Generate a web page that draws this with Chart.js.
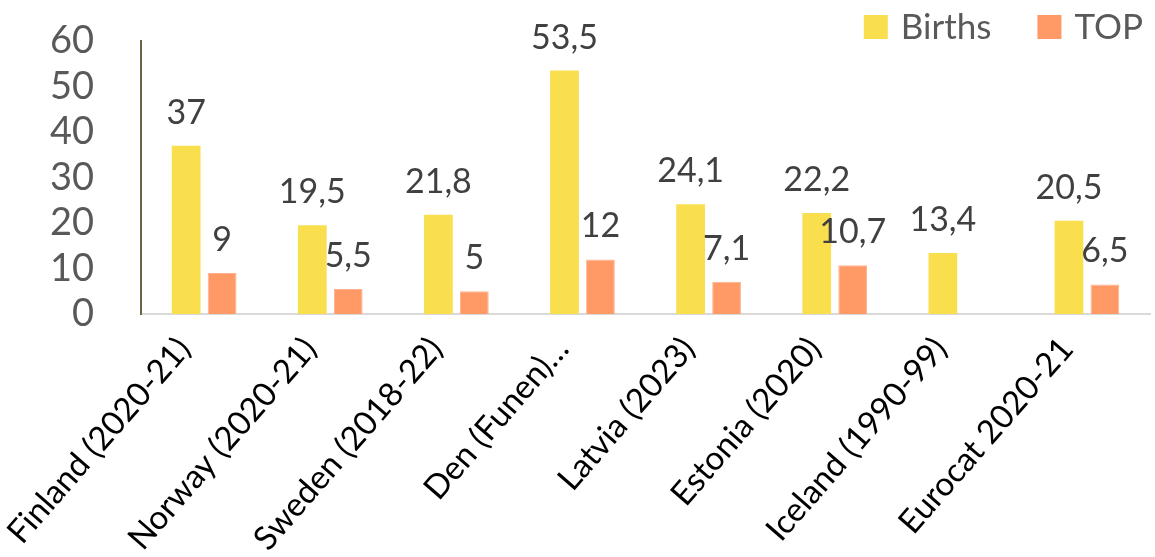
<!DOCTYPE html>
<html>
<head>
<meta charset="utf-8">
<script src="https://cdn.jsdelivr.net/npm/chart.js@4"></script>
<style>
  html, body { margin: 0; padding: 0; background: #fff; }
  #wrap { width: 1155px; height: 557px; position: relative; }
</style>
</head>
<body>
<div id="wrap"><canvas id="myChart"></canvas></div>
<script>
const categories = ['Finland (2020-21)', 'Norway (2020-21)', 'Sweden (2018-22)', 'Den (Funen)…',
  'Latvia (2023)', 'Estonia (2020)', 'Iceland (1990-99)', 'Eurocat 2020-21']
const births = [37, 19.5, 21.8, 53.5, 24.1, 22.2, 13.4, 20.5]
const top_ = [9, 5.5, 5, 12, 7.1, 10.7, null, 6.5]
const yTicks = [0, 10, 20, 30, 40, 50, 60]

const FONT = 'Lato, "Open Sans", sans-serif'

// value labels above each bar, decimal comma
const valueLabels = {
  id: 'valueLabels',
  afterDatasetsDraw(chart) {
    const c = chart.ctx
    c.save()
    c.font = '34px ' + FONT
    c.fillStyle = '#404040'
    c.textAlign = 'center'
    c.textBaseline = 'alphabetic'
    chart.data.datasets.forEach((ds, i) => {
      chart.getDatasetMeta(i).data.forEach((bar, j) => {
        const v = ds.data[j]
        if (v == null) return
        c.fillText(String(v).replace('.', ','), bar.x, bar.y - 22)
      })
    })
    c.restore()
  }
}

// compact legend in the top right corner, overlapping the plot's top margin
const cornerLegend = {
  id: 'cornerLegend',
  afterDraw(chart) {
    const c = chart.ctx
    const box = 24, gapText = 13, gapItem = 46, cy = 27
    c.save()
    c.font = '35px ' + FONT
    c.textBaseline = 'middle'
    c.textAlign = 'left'
    const items = chart.data.datasets.map(ds => ({ text: ds.label, color: ds.backgroundColor, w: c.measureText(ds.label).width }))
    let total = items.reduce((s, it) => s + box + gapText + it.w, 0) + gapItem * (items.length - 1)
    let x = chart.width - 12 - total
    items.forEach(it => {
      c.fillStyle = it.color
      c.fillRect(x, cy - box / 2, box, box)
      x += box + gapText
      c.fillStyle = '#595959'
      c.fillText(it.text, x, cy + 1)
      x += it.w + gapItem
    })
    c.restore()
  }
}

new Chart('myChart', {
  type: 'bar',
  data: {
    labels: categories,
    datasets: [{
      label: 'Births',
      data: births,
      backgroundColor: '#F9DF4E',
      categoryPercentage: 0.57,
      barPercentage: 0.8
    }, {
      label: 'TOP',
      data: top_,
      backgroundColor: '#FF9966',
      borderColor: '#FFB28C',
      borderWidth: 1,
      categoryPercentage: 0.57,
      barPercentage: 0.8
    }]
  },
  options: {
    responsive: true,
    maintainAspectRatio: false,
    animation: false,
    layout: { padding: { left: 11, right: 5, top: 2, bottom: 0 } },
    plugins: {
      legend: { display: false },
      tooltip: { enabled: false }
    },
    scales: {
      x: {
        afterFit: s => { s.height = 243 },
        grid: { display: false },
        border: { display: true, color: '#D9D9D9', width: 2 },
        ticks: {
          color: '#000',
          font: { family: FONT, size: 33 },
          minRotation: 49,
          maxRotation: 49,
          autoSkip: false,
          labelOffset: -20,
          padding: 8
        }
      },
      y: {
        min: 0,
        max: 60,
        afterBuildTicks: axis => { axis.ticks = yTicks.map(v => ({ value: v })) },
        // tick padding is horizontal only here; keep it out of the top margin
        afterFit: s => { s.paddingTop = 41; s.paddingBottom = 23 },
        grid: { display: false },
        border: { display: true, color: '#6B6440', width: 2 },
        ticks: {
          color: '#595959',
          font: { family: FONT, size: 38 },
          padding: 39,
          autoSkip: false
        }
      }
    }
  },
  plugins: [valueLabels, cornerLegend]
})
</script>
</body>
</html>
